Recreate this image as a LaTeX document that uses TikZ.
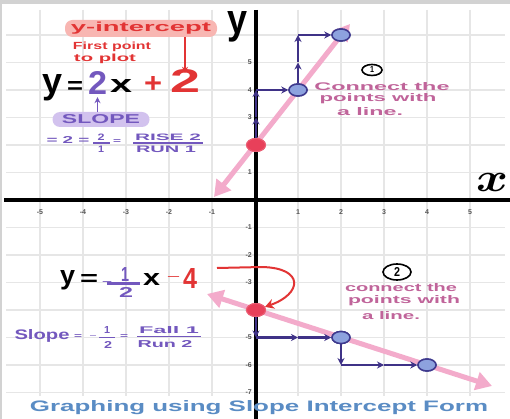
\documentclass[tikz,border=0pt]{standalone}
\usepackage{graphicx}
\usepackage{fontspec}
\setmainfont{Liberation Sans}
\usetikzlibrary{arrows.meta,shapes.geometric}
\definecolor{pinkln}{HTML}{F3ABCB}
\definecolor{redptc}{HTML}{E8405A}
\definecolor{bluefill}{HTML}{8DA2DE}
\definecolor{bluedraw}{HTML}{3E3A8E}
\definecolor{stairc}{HTML}{3F3287}
\definecolor{purtxt}{HTML}{7358BE}
\definecolor{redtxt}{HTML}{E23434}
\definecolor{mauve}{HTML}{C0649A}
\definecolor{titlec}{HTML}{5A8CC4}
\definecolor{pillpink}{HTML}{F8B6B2}
\definecolor{pillpur}{HTML}{D2C2EE}
\definecolor{gridc}{HTML}{E6E6E6}
\definecolor{tickc}{HTML}{555555}
\newcommand\fitbox[3]{\resizebox{#1pt}{#2pt}{#3}}
\tikzset{
  gridline/.style={draw=gridc, line width=1.3pt},
  axisline/.style={draw=black, line width=4.5pt},
  ticklab/.style={text=tickc, font=\fontsize{7}{7}\selectfont\bfseries, inner sep=0pt},
  pinkline/.style={draw=pinkln, line width=5pt, {Triangle[length=16pt,width=18pt]}-{Triangle[length=16pt,width=18pt]}},
  stair/.style={draw=stairc, line width=2.5pt, -{Stealth[length=7pt,width=7pt]}},
  bluept/.style={ellipse, draw=bluedraw, fill=bluefill, line width=1.5pt, minimum width=18pt, minimum height=12pt, inner sep=0pt},
  redpt/.style={ellipse, draw=redptc!85!white, fill=redptc, line width=1pt, minimum width=19pt, minimum height=13pt, inner sep=0pt},
  gl/.style={inner sep=0pt, anchor=base},
  pill/.style={rounded corners=7.5pt, inner sep=0pt},
  circnum/.style={draw=black, ellipse, line width=1.6pt, inner sep=0pt},
  bar/.style={line width=1.6pt},
}
\begin{document}
\begin{tikzpicture}[x=1pt,y=-1pt]
\useasboundingbox (0,0) rectangle (510,419);
\fill[white] (0,0) rectangle (510,419);
\fill[gray!35] (0,0) rectangle (510,4);
\fill[gray!35] (0,0) rectangle (2,419);
% grid
\foreach \k in {-5,...,-1,1,2,3,4,5} \draw[gridline] ({255+43*\k},10) -- ({255+43*\k},396);
\foreach \k in {-7,...,-1,1,2,...,6} \draw[gridline] (6,{200-27.5*\k}) -- (505,{200-27.5*\k});
% axes
\draw[axisline] (4,200) -- (510,200);
\draw[axisline] (256,10) -- (256,419);
% tick labels
\foreach \k in {-5,...,-1,1,2,3,4,5} \node[ticklab] (xt\k) at ({255+43*\k},212) {\k};
\foreach \k in {-7,...,-1,1,2,3,4,5} \node[ticklab, anchor=east] (yt\k) at (252,{200-27.5*\k}) {\k};
% axis letters
\node[inner sep=0pt] (ylab) at (237,27) {\fitbox{20}{22}{\bfseries y}};
\node[inner sep=0pt] (xlab) at (492,182) {\fitbox{32}{18}{\boldmath$x$}};
% pink lines
\coordinate (pa1) at (214,197);
\coordinate (pa2) at (350,24);
\draw[pinkline] (pa1) -- (pa2);
\coordinate (pb1) at (207,294);
\coordinate (pb2) at (492,386);
\draw[pinkline] (pb1) -- (pb2);
% points
\node[redpt] (R1) at (256,145) {};
\node[bluept] (B1) at (298,90) {};
\node[bluept] (B2) at (341,35) {};
\node[redpt] (R2) at (256,310) {};
\node[bluept] (B3) at (341,337.5) {};
\node[bluept] (B4) at (427,365) {};
% upper staircase
\coordinate (u1) at (256,117.5);
\coordinate (u2) at (256,90);
\coordinate (u3) at (298,62.5);
\coordinate (u4) at (298,35);
\draw[stair] (R1) -- (u1);
\draw[stair] (u1) -- (u2);
\draw[stair] (u2) -- (B1);
\draw[stair] (B1) -- (u3);
\draw[stair] (u3) -- (u4);
\draw[stair] (u4) -- (B2);
% lower staircase
\coordinate (d1) at (256,337.5);
\coordinate (d2) at (298,337.5);
\coordinate (d3) at (341,365);
\coordinate (d4) at (384,365);
\draw[stair] (R2) -- (d1);
\draw[stair] (d1) -- (d2);
\draw[stair] (d2) -- (B3);
\draw[stair] (B3) -- (d3);
\draw[stair] (d3) -- (d4);
\draw[stair] (d4) -- (B4);
% redraw points on top
\node[redpt] at (R1) {};
\node[bluept] at (B1) {};
\node[bluept] at (B2) {};
\node[redpt] at (R2) {};
\node[bluept] at (B3) {};
\node[bluept] at (B4) {};

% ---- upper annotations
\node[pill, fill=pillpink, minimum width=152pt, minimum height=17pt, text=redtxt] (yint) at (141,28.5) {\fitbox{140}{9.5}{\bfseries y-intercept}};
\node[inner sep=0pt, text=redtxt] (fp1) at (112,47) {\fitbox{78}{7.5}{\bfseries First point}};
\node[inner sep=0pt, text=redtxt] (fp2) at (105,59) {\fitbox{62}{7.5}{\bfseries to plot}};
\node[gl] (ey) at (53,94) {\fitbox{20}{19}{\bfseries y}};
\node[gl] (eeq) at (75,94) {\fitbox{16}{12}{\bfseries =}};
\node[gl, text=purtxt] (etwo) at (97.5,95) {\fitbox{19}{23}{\bfseries 2}};
\node[gl] (ex) at (121,93) {\fitbox{22}{13}{\bfseries x}};
\node[gl, text=redtxt] (eplus) at (153,93) {\fitbox{18}{16}{\bfseries +}};
\node[gl, text=redtxt] (rtwo) at (185,93) {\fitbox{30}{23}{\bfseries 2}};
\draw[redtxt, line width=1.6pt, -{Stealth[length=6pt,width=6pt]}] (yint.south -| rtwo.north) -- ([yshift=-3pt]rtwo.north);
\node[pill, fill=pillpur, minimum width=97pt, minimum height=15pt, text=purtxt] (slope) at (101,119.5) {\fitbox{78}{9}{\bfseries SLOPE}};
\draw[purtxt, line width=1.6pt, -{Stealth[length=6pt,width=6pt]}] (slope.north -| etwo.south) -- ([yshift=-2pt]etwo.south);
\node[gl, text=purtxt] (sl1) at (68,144) {\fitbox{43}{7}{\bfseries = 2 =}};
\node[inner sep=0pt, text=purtxt] (f1n) at (101,137.5) {\fitbox{7}{6.5}{\bfseries 2}};
\draw[purtxt, bar] (93,143) -- (110,143);
\node[inner sep=0pt, text=purtxt] (f1d) at (101,149.5) {\fitbox{6}{6.5}{\bfseries 1}};
\node[inner sep=0pt, text=purtxt] (sl2) at (117,142) {\fitbox{8}{4}{\bfseries =}};
\node[inner sep=0pt, text=purtxt] (f2n) at (168,137.5) {\fitbox{66}{6.5}{\bfseries RISE 2}};
\draw[purtxt, bar] (133,143) -- (203,143);
\node[inner sep=0pt, text=purtxt] (f2d) at (166,149.5) {\fitbox{60}{6.5}{\bfseries RUN 1}};
\node[circnum, minimum width=20pt, minimum height=11pt] (cn1) at (372,70) {\fitbox{4}{6}{\bfseries 1}};
\node[inner sep=0pt, text=mauve] (cA1) at (382,87) {\fitbox{135}{8}{\bfseries Connect the}};
\node[inner sep=0pt, text=mauve] (cA2) at (378,99) {\fitbox{117}{8}{\bfseries points with}};
\node[inner sep=0pt, text=mauve] (cA3) at (370,112) {\fitbox{66}{8}{\bfseries a line.}};

% ---- lower annotations
\node[gl] (ly) at (67.5,284) {\fitbox{15}{14}{\bfseries y}};
\node[gl] (leq) at (89,285) {\fitbox{18}{11}{\bfseries =}};
\node[inner sep=0pt, text=purtxt] (lmin) at (107,283) {\fitbox{10}{3}{\bfseries −}};
\node[gl, text=purtxt] (lone) at (125,281) {\fitbox{8}{14}{\bfseries 1}};
\draw[purtxt, line width=2.2pt] (107,283.5) -- (140,283.5);
\node[gl, text=purtxt] (ltwo) at (126,297) {\fitbox{14}{10}{\bfseries 2}};
\node[gl] (lx) at (151.5,285) {\fitbox{17}{12}{\bfseries x}};
\node[inner sep=0pt, text=redtxt] (lminr) at (173.5,278) {\fitbox{13}{3}{\bfseries −}};
\node[gl, text=redtxt] (lfour) at (190,288) {\fitbox{14}{20}{\bfseries 4}};
\coordinate (cs) at (217,268);
\draw[redtxt, line width=2pt, -{Stealth[length=9pt,width=10pt]}] (cs) -- (262,267) .. controls (305,268) and (302,294) .. (R2);
\node[gl, text=purtxt] (lslope) at (42,339) {\fitbox{55}{10}{\bfseries Slope}};
\node[inner sep=0pt, text=purtxt] (lseq) at (78,336) {\fitbox{8}{4}{\bfseries =}};
\node[inner sep=0pt, text=purtxt] (lsmin) at (93,336.5) {\fitbox{7}{2}{\bfseries −}};
\node[inner sep=0pt, text=purtxt] (lsn) at (107,330) {\fitbox{6}{7}{\bfseries 1}};
\draw[purtxt, bar] (99,337.5) -- (115,337.5);
\node[inner sep=0pt, text=purtxt] (lsd) at (108,344.5) {\fitbox{8}{7}{\bfseries 2}};
\node[inner sep=0pt, text=purtxt] (lseq2) at (124,336) {\fitbox{8}{4}{\bfseries =}};
\node[inner sep=0pt, text=purtxt] (lfn) at (169,330) {\fitbox{60}{7}{\bfseries Fall 1}};
\draw[purtxt, bar] (137,336.5) -- (201,336.5);
\node[inner sep=0pt, text=purtxt] (lfd) at (165,344) {\fitbox{55}{7}{\bfseries Run 2}};
\node[circnum, minimum width=28pt, minimum height=16pt] (cn2) at (397,272) {\fitbox{6}{9}{\bfseries 2}};
\node[inner sep=0pt, text=mauve] (cB1) at (401,288) {\fitbox{112}{8}{\bfseries connect the}};
\node[inner sep=0pt, text=mauve] (cB2) at (404,301) {\fitbox{112}{8}{\bfseries points with}};
\node[inner sep=0pt, text=mauve] (cB3) at (391,316) {\fitbox{58}{8}{\bfseries a line.}};

% title
\node[gl, text=titlec] (title) at (259,411) {\fitbox{458}{11}{\bfseries Graphing using Slope Intercept Form}};
\end{tikzpicture}
\end{document}
